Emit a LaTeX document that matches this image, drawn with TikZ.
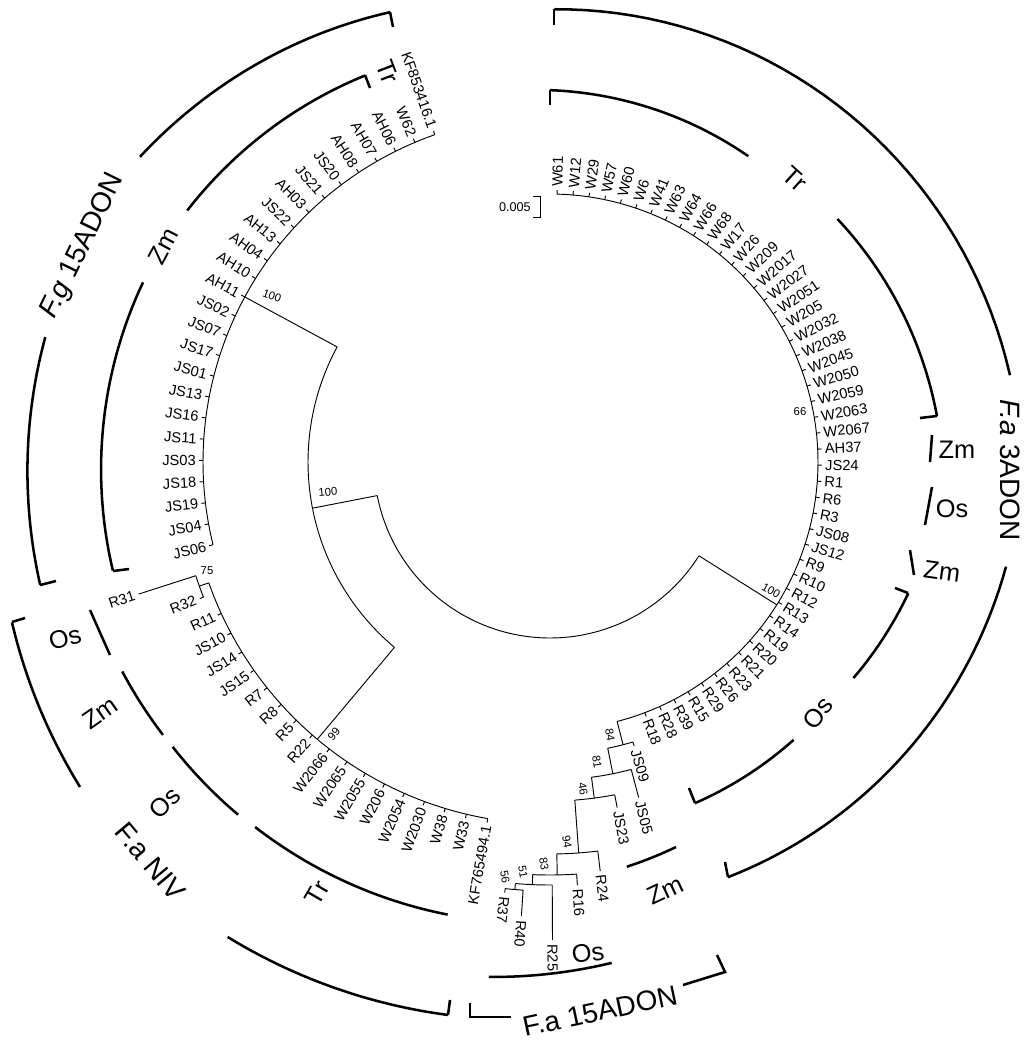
\documentclass[tikz,border=0pt]{standalone}
\usepackage{fontspec}
\setmainfont{Liberation Sans}
\newcommand\lflab[4]{%
 \pgfmathsetmacro\lfa{#1}%
 \pgfmathtruncatemacro\lfr{((\lfa>-98)&&(\lfa<90))?1:0}%
 \ifnum\lfr=1
   \node[lbl,anchor=west,rotate=\lfa] (#4) at (\lfa:#2) {#3};%
 \else
   \node[lbl,anchor=east,rotate=\lfa-180] (#4) at (\lfa:#2) {#3};%
 \fi}
\newcommand\brk[4]{\draw[brkline] plot[domain=0:1,samples=40,variable=\t] ({#1+(#3-#1)*\t}:{#2+(#4-#2)*\t});}
\tikzset{
 lbl/.style={font=\fontsize{11}{11}\selectfont,inner sep=0pt},
 boot/.style={font=\fontsize{8.5}{8.5}\selectfont,inner sep=0pt},
 host/.style={font=\fontsize{19}{19}\selectfont,inner sep=0pt},
 clade/.style={font=\fontsize{21}{21}\selectfont,inner sep=0pt},
 br/.style={line width=0.7pt},
 brkline/.style={line width=1.9pt},
}
\begin{document}
\begin{tikzpicture}[x=0.75pt,y=-0.75pt]
\useasboundingbox (0,0) rectangle (1024,1042);
\fill[white] (0,0) rectangle (1024,1042);
% ---------------- tree ----------------
\begin{scope}[shift={(550,462)},y=0.75pt]
\draw[br] plot[domain=151.6:230,samples=60] (\x:242);
\draw[br] (151.6:242) -- (151.6:347);
\draw[br] (230:242) -- (230:362);
\draw[br] (191:242) -- (191:176);
\draw[br] plot[domain=191:327.8,samples=80] (\x:176);
\draw[br] (327.8:176) -- (327.8:268);
% 3ADON
\draw[br] plot[domain=-75.5:88.5,samples=120] (\x:268);
\foreach \n [count=\i from 0] in {W61,W12,W29,W57,W60,W6,W41,W63,W64,W66,W68,W17,W26,W209,W2017,W2027,W2051,W205,W2032,W2038,W2045,W2050,W2059,W2063,W2067,AH37,JS24,R1,R6,R3,JS08,JS12,R9,R10,R12,R13,R14,R19,R20,R21,R23,R26,R29,R15,R39,R28,R18}{
 \pgfmathsetmacro\aa{88.5-3.43*\i}
 \draw[br] (\aa:268) -- (\aa:272);
 \lflab{\aa}{275}{\n}{a\i}
}
% 15ADON ladder
\draw[br] (-75.5:268) -- (-75.5:292);
\draw[br] plot[domain=-78.6:-73.5,samples=10] (\x:292);
\draw[br] (-73.5:292) -- (-73.5:296);
\lflab{-73.5}{300}{JS09}{c0}
\draw[br] (-78.6:292) -- (-78.6:318);
\draw[br] plot[domain=-82.5:-75.2,samples=10] (\x:318);
\draw[br] (-75.2:318) -- (-75.2:347);
\lflab{-75.2}{351}{JS05}{c1}
\draw[br] (-82.5:318) -- (-82.5:339);
\draw[br] plot[domain=-85.8:-79,samples=10] (\x:339);
\draw[br] (-79:339) -- (-79:352);
\lflab{-79}{356}{JS23}{c2}
\draw[br] (-85.8:339) -- (-85.8:392);
\draw[br] plot[domain=-89:-83,samples=10] (\x:392);
\draw[br] (-83:392) -- (-83:412);
\lflab{-83}{416}{R24}{c3}
\draw[br] (-89:392) -- (-89:413);
\draw[br] plot[domain=-92.4:-86.3,samples=10] (\x:413);
\draw[br] (-86.3:413) -- (-86.3:424);
\lflab{-86.3}{428}{R16}{c4}
\draw[br] (-92.4:413) -- (-92.4:423);
\draw[br] plot[domain=-94.7:-89.7,samples=10] (\x:423);
\draw[br] (-89.7:423) -- (-89.7:478);
\lflab{-89.7}{482}{R25}{c5}
\draw[br] (-94.7:423) -- (-94.7:429);
\draw[br] plot[domain=-96:-93.6,samples=10] (\x:429);
\draw[br] (-93.6:429) -- (-93.6:455);
\lflab{-93.6}{459}{R40}{c6}
\draw[br] (-96:429) -- (-96:433);
\lflab{-96}{437}{R37}{c7}
% NIV
\draw[br] plot[domain=199.5:260.1,samples=80] (\x:362);
\foreach \n [count=\i from 0] in {KF765494.1,W33,W38,W2030,W2054,W206,W2055,W2065,W2066,R22,R5,R8,R7,JS15,JS14,JS10,R11}{
 \pgfmathsetmacro\aa{260.1-3.46*\i}
 \draw[br] (\aa:362) -- (\aa:366);
 \lflab{\aa}{369}{\n}{n\i}
}
\draw[br] (199.5:362) -- (199.5:372);
\draw[br] plot[domain=197.8:201.3,samples=10] (\x:372);
\draw[br] (201.3:372) -- (201.3:376);
\lflab{201.3}{380}{R32}{n17}
\draw[br] (197.8:372) -- (197.8:432);
\lflab{197.8}{436}{R31}{n18}
% F.g
\draw[br] plot[domain=109.4:193.8,samples=100] (\x:347);
\foreach \n [count=\i from 0] in {JS06,JS04,JS19,JS18,JS03,JS11,JS16,JS13,JS01,JS17,JS07,JS02,AH11,AH10,AH04,AH13,JS22,AH03,JS21,JS20,AH08,AH07,AH06,W62,KF853416.1}{
 \pgfmathsetmacro\aa{193.8-3.517*\i}
 \draw[br] (\aa:347) -- (\aa:351);
 \lflab{\aa}{354}{\n}{g\i}
}
\end{scope}
% bootstrap values
\node[boot,rotate=-20] (b1) at (272,296) {100};
\node[boot,rotate=5] (b2) at (328,492) {100};
\node[boot] (b3) at (207,571) {75};
\node[boot,rotate=50] (b4) at (334,734) {99};
\node[boot] (b5) at (800,412) {66};
\node[boot,rotate=-30] (b6) at (771,591) {100};
\node[boot,rotate=-80] (b7) at (610,735) {84};
\node[boot,rotate=-80] (b8) at (597,762) {81};
\node[boot,rotate=-80] (b9) at (583,789) {46};
\node[boot,rotate=-80] (b10) at (567,842) {94};
\node[boot,rotate=-80] (b11) at (544,864) {83};
\node[boot,rotate=-80] (b12) at (523,872) {51};
\node[boot,rotate=-80] (b13) at (505,877) {56};
% scale bar
\draw[br] (533,196) -- (540,196) -- (540,217) -- (533,217);
\node[lbl,anchor=east,font=\fontsize{9.5}{9.5}\selectfont] (sc) at (531,207) {0.005};
% ---------------- brackets ----------------
\begin{scope}[shift={(540,465)},y=0.75pt]
\brk{108.3}{477}{142.4}{505}
\brk{165.5}{511}{193.5}{514}
\brk{114.2}{427}{144.2}{435}
\brk{155.3}{437}{193.9}{440}
\brk{88.2}{456}{10.8}{478.5}
\brk{-12.3}{477}{-65.5}{453}
\brk{88.5}{375}{56}{372.5}
\brk{39.6}{386}{7}{400}
\brk{-19.2}{390}{-34.2}{379}
\brk{-47.3}{374}{-65.4}{372}
\brk{-77.8}{411}{-70.4}{405.5}
\brk{-95.7}{514.5}{-81.8}{503}
\brk{196.6}{551}{215}{561.5}
\brk{236.5}{566}{260.5}{557.6}
\brk{206.3}{466}{215.6}{463.7}
\brk{217.5}{463}{229.2}{462}
\brk{231.8}{460.7}{258.4}{459}
\end{scope}
% hooks and straight bracket parts
\draw[brkline] (390,12) -- (393,27);
\draw[brkline] (40,585) -- (56,581);
\draw[brkline] (365,75) -- (370,88);
\draw[brkline] (113,571) -- (129,569);
\draw[brkline] (554,9) -- (554,25);
\draw[brkline] (728,877) -- (725,862);
\draw[brkline] (550,90) -- (550,105);
\draw[brkline] (937,416) -- (920,418);
\draw[brkline] (932,435) -- (930,462);
\draw[brkline] (932,487) -- (925,525);
\draw[brkline] (910,550) -- (914,575);
\draw[brkline] (895,588) -- (908,593);
\draw[brkline] (695,803) -- (689,788);
\draw[brkline] (90,610) -- (110,655);
\draw[brkline] (25,618) -- (12,622);
\draw[brkline] (448,1015) -- (450,1000);
\draw[brkline] (470,1003) -- (470,1017) -- (511,1017);
\draw[brkline] (683,985) -- (725,972) -- (717,955);
% bracket labels
\node[clade,rotate=64] (fg) at (83,246) {\textit{F.g} 15ADON};
\node[clade,rotate=-90] (fa3) at (1010,470) {\textit{F.a} 3ADON};
\node[clade,rotate=-50] (faniv) at (150,862) {F.a NIV};
\node[clade,rotate=12] (fa15) at (600,1011) {F.a 15ADON};
\node[host,rotate=-69] (h1) at (388,72) {Tr};
\node[host,rotate=62] (h2) at (163,246) {Zm};
\node[host,rotate=-42] (h3) at (795,179) {Tr};
\node[host] (h4) at (957,450) {Zm};
\node[host] (h5) at (952,509) {Os};
\node[host,rotate=-8] (h6) at (942,571) {Zm};
\node[host,rotate=50] (h7) at (818,713) {Os};
\node[host,rotate=25] (h8) at (665,890) {Zm};
\node[host,rotate=8] (h9) at (588,953) {Os};
\node[host,rotate=15] (h10) at (65,638) {Os};
\node[host,rotate=35] (h11) at (100,713) {Zm};
\node[host,rotate=45] (h12) at (165,803) {Os};
\node[host,rotate=60] (h13) at (317,893) {Tr};
\end{tikzpicture}
\end{document}
